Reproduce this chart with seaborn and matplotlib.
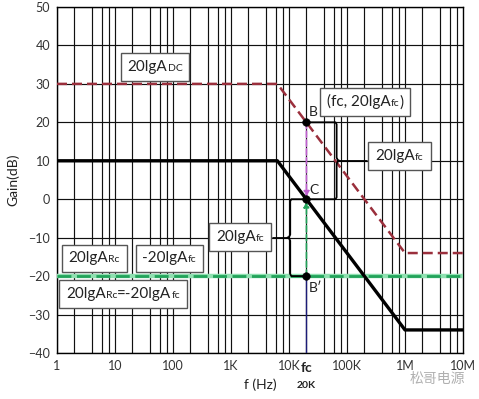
import numpy as np
import pandas as pd
import matplotlib
matplotlib.use("Agg")
import matplotlib.pyplot as plt
import seaborn as sns
from matplotlib.offsetbox import TextArea, HPacker, AnnotationBbox
import matplotlib.transforms as mtransforms

# ---------------- data ----------------
freq_loop = [1, 6300, 1e6, 1e7]          # black: loop gain
gain_loop = [10, 10, -34, -34]
freq_dc = [1, 6300, 1e6, 1e7]            # red dashed: 20lgA_DC
gain_dc = [30, 30, -14, -14]
freq_rc = [1, 1e7]                       # green dashed: 20lgA_Rc
gain_rc = [-20, -20]
fc = 20000
point_names = ["B", "C", "B\u2032"]
point_gain = [20, 0, -20]
xtick_vals = [1, 10, 100, 1e3, 1e4, 1e5, 1e6, 1e7]
xtick_labels = ["1", "10", "100", "1K", "10K", "100K", "1M", "10M"]
ytick_vals = list(range(-40, 51, 10))

sns.set_theme(style="white")
plt.rcParams["font.family"] = ["Lato", "DejaVu Sans"]

fig = plt.figure(figsize=(4.79, 3.99), dpi=100)
ax = fig.add_axes([57 / 479, 1 - 353 / 399, (463 - 57) / 479, (353 - 7) / 399])
ax.set_xscale("log")
ax.set_xlim(1, 1e7)
ax.set_ylim(-40, 50)

# grid: 1,2,4,6,8 per decade and every 10 dB
for k in range(7):
    for m in (1, 2, 4, 6, 8):
        ax.axvline(m * 10 ** k, color="#111111", lw=0.85, zorder=1)
for yv in ytick_vals:
    ax.axhline(yv, color="#111111", lw=0.85, zorder=1)

df_loop = pd.DataFrame({"f": freq_loop, "g": gain_loop})
df_dc = pd.DataFrame({"f": freq_dc, "g": gain_dc})
df_rc = pd.DataFrame({"f": freq_rc, "g": gain_rc})

sns.lineplot(data=df_rc, x="f", y="g", ax=ax, color="#8fe0b0", lw=3.2, zorder=3)
sns.lineplot(data=df_rc, x="f", y="g", ax=ax, color="#22a35a", lw=2.0, ls=(0, (5, 2)), zorder=3)
sns.lineplot(data=df_dc, x="f", y="g", ax=ax, color="#9a2f3c", lw=1.8, ls=(0, (4, 2)), zorder=3)
sns.lineplot(data=df_loop, x="f", y="g", ax=ax, color="black", lw=2.4, zorder=4)

# vertical at fc: navy from B' to bottom
ax.plot([fc, fc], [-40, point_gain[2]], color="#1c1c78", lw=1.0, zorder=4)
# magenta dashed arrow B -> C
ax.annotate("", xy=(fc, point_gain[1] + 0.6), xytext=(fc, point_gain[0]),
            arrowprops=dict(arrowstyle="-|>", color="#c060d0", lw=1.2, ls="--",
                            mutation_scale=8, shrinkA=0, shrinkB=0), zorder=5)
# green dashed arrow B' -> C
ax.annotate("", xy=(fc, point_gain[1] - 0.6), xytext=(fc, point_gain[2]),
            arrowprops=dict(arrowstyle="-|>", color="#22a35a", lw=1.2, ls="--",
                            mutation_scale=8, shrinkA=0, shrinkB=0), zorder=5)

sns.scatterplot(x=[fc] * 3, y=point_gain, ax=ax, color="black", s=30, zorder=6, edgecolor="black")
ax.text(fc * 1.08, point_gain[0] + 1.0, point_names[0], fontsize=10, color="#222", va="bottom", ha="left", zorder=7)
ax.text(fc * 1.12, point_gain[1] + 0.8, point_names[1], fontsize=10, color="#222", va="bottom", ha="left", zorder=7)
ax.text(fc * 1.08, point_gain[2] - 1.5, point_names[2], fontsize=10, color="#222", va="top", ha="left", zorder=7)

lf = np.log10(fc)


def brace(x_base, x_v, y_top, y_bot, side, x_to):
    d = 0.05 * side
    ym = (y_top + y_bot) / 2
    xs = [x_base, x_v - 0.02 * side, x_v, x_v, x_v + 0.02 * side, x_v + d,
          x_v + 0.02 * side, x_v, x_v, x_v - 0.02 * side, x_base]
    ys = [y_top, y_top, y_top - 0.5, ym + 0.8, ym + 0.2, ym, ym - 0.2, ym - 0.8,
          y_bot + 0.5, y_bot, y_bot]
    ax.plot(10 ** np.array(xs), ys, color="black", lw=1.3, zorder=5)
    ax.plot([10 ** (x_v + d), 10 ** x_to], [ym, ym], color="black", lw=1.3, zorder=5)


brace(lf + 0.06, lf + 0.52, point_gain[0], point_gain[1], 1, 5.34)
brace(lf - 0.02, lf - 0.28, point_gain[1], point_gain[2], -1, 3.72)


def label_box(parts, xlog, y):
    children = []
    for txt, small in parts:
        children.append(TextArea(txt, textprops=dict(size=7.5 if small else 11,
                                                       color="#222", family=["Lato", "DejaVu Sans"])))
    pack = HPacker(children=children, align="baseline", pad=0, sep=0)
    ab = AnnotationBbox(pack, (10 ** xlog, y), xycoords="data", frameon=True, pad=0.45,
                        box_alignment=(0.5, 0.5),
                        bboxprops=dict(edgecolor="#555555", lw=1.0, facecolor="white"), zorder=8)
    ax.add_artist(ab)


label_box([("20lgA", False), ("DC", True)], 1.69, 34.3)
label_box([("(fc, 20lgA", False), ("fc", True), (")", False)], 5.31, 25.3)
label_box([("20lgA", False), ("fc", True)], 5.905, 11.3)
label_box([("20lgA", False), ("fc", True)], 3.155, -9.8)
label_box([("20lgA", False), ("Rc", True)], 0.64, -15.4)
label_box([("-20lgA", False), ("fc", True)], 1.94, -15.4)
label_box([("20lgA", False), ("Rc", True), ("=-20lgA", False), ("fc", True)], 1.14, -24.6)

ax.set_xticks(xtick_vals)
ax.set_xticklabels(xtick_labels)
ax.xaxis.set_minor_locator(matplotlib.ticker.NullLocator())
ax.set_yticks(ytick_vals)
ax.tick_params(axis="both", length=0, labelsize=9, colors="#333333", pad=5)
ax.set_xlabel("f (Hz)", fontsize=10, color="#222", labelpad=5)
ax.set_ylabel("Gain(dB)", fontsize=10, color="#222", labelpad=6)
for s in ax.spines.values():
    s.set_color("black")
    s.set_linewidth(1.0)

trans = mtransforms.blended_transform_factory(ax.transData, ax.transAxes)
ax.text(fc, -0.025, "fc", transform=trans, ha="center", va="top", fontsize=10, fontweight="bold", color="#222")
ax.text(fc, -0.08, "20K", transform=trans, ha="center", va="top", fontsize=7.5, fontweight="bold", color="#222")

fig.text(0.97, 0.05, "松哥电源", ha="right", va="center", fontsize=10, color="#b0b0b0",
         family=["Noto Sans CJK SC", "DejaVu Sans"])

fig.savefig("out.png", dpi=100)
